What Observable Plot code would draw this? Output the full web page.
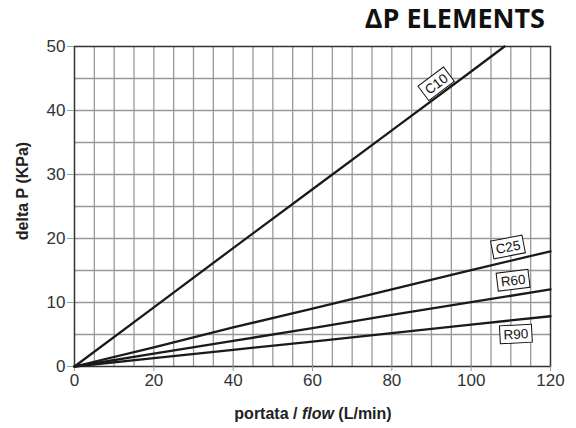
<!DOCTYPE html>
<html><head><meta charset="utf-8">
<script src="https://cdn.jsdelivr.net/npm/d3@7"></script>
<script src="https://cdn.jsdelivr.net/npm/@observablehq/plot@0.6"></script>
<style>
body{margin:0;background:#fff;}
#wrap{position:relative;width:576px;height:428px;font-family:"Liberation Sans",Arial,sans-serif;}
#title{position:absolute;right:31px;top:0px;font:bold 27px "Open Sans",sans-serif;color:#111;line-height:36px;}
#xlab{position:absolute;left:0;width:626px;top:404px;text-align:center;font:bold 16px "Liberation Sans",Arial,sans-serif;color:#222;line-height:20px;}
#ylab{position:absolute;left:23px;top:191px;transform:translate(-50%,-50%) rotate(-90deg);white-space:nowrap;font:bold 16px "Liberation Sans",Arial,sans-serif;color:#222;line-height:20px;}
#chart{position:absolute;left:0;top:0;}
</style></head>
<body>
<div id="wrap">
<div id="chart"></div>
<div id="title">ΔP ELEMENTS</div>
<div id="ylab">delta P (KPa)</div>
<div id="xlab">portata / <i>flow</i> (L/min)</div>
</div>
<script>
const xTicks = [0, 20, 40, 60, 80, 100, 120];
const yTicks = [0, 10, 20, 30, 40, 50];
const xGrid = [5,10,15,20,25,30,35,40,45,50,55,60,65,70,75,80,85,90,95,100,105,110,115];
const yGrid = [5,10,15,20,25,30,35,40,45];

const c10Flow = [0, 20, 40, 60, 80, 100, 108.4];
const c10Dp   = [0, 9.25, 18.5, 27.7, 36.9, 46.1, 50];
const flow    = [0, 20, 40, 60, 80, 100, 120];
const c25Dp   = [0, 3.0, 6.1, 9.05, 12.05, 15.05, 18.0];
const r60Dp   = [0, 2.0, 4.0, 6.0, 8.05, 10.05, 12.05];
const r90Dp   = [0, 1.3, 2.6, 3.9, 5.2, 6.55, 7.85];

const labelNames = ["C10", "C25", "R60", "R90"];
const labelX = [91.3, 109.4, 110.7, 111.4];
const labelY = [44.1, 18.6, 13.4, 5.0];
const labelAngle = [-37, -11, -7, -3];

const series = [
  {name: "C10", xs: c10Flow, ys: c10Dp},
  {name: "C25", xs: flow, ys: c25Dp},
  {name: "R60", xs: flow, ys: r60Dp},
  {name: "R90", xs: flow, ys: r90Dp}
];
const lineData = series.flatMap(s => s.xs.map((x, i) => ({name: s.name, x, y: s.ys[i]})));
const labels = labelNames.map((n, i) => ({name: n, x: labelX[i], y: labelY[i], a: labelAngle[i]}));

function boxLabels(data) {
  return (index, scales, values, dimensions, context) => {
    const g = d3.create("svg:g");
    for (const d of data) {
      const px = scales.x(d.x), py = scales.y(d.y);
      const gg = g.append("g").attr("transform", `translate(${px},${py}) rotate(${d.a})`);
      gg.append("rect").attr("x", -16).attr("y", -9).attr("width", 32).attr("height", 18)
        .attr("fill", "white").attr("stroke", "#111").attr("stroke-width", 1);
      gg.append("text").attr("text-anchor", "middle").attr("dy", "0.36em")
        .attr("font-family", "Liberation Sans, Arial, sans-serif").attr("font-size", 13.5).attr("fill", "#111")
        .text(d.name);
    }
    return g.node();
  };
}

const chart = Plot.plot({
  width: 576, height: 428,
  marginLeft: 74, marginRight: 26, marginTop: 46, marginBottom: 62,
  style: {fontFamily: "Liberation Sans, Arial, sans-serif", fontSize: "17px", color: "#333", background: "white"},
  x: {domain: [0, 120], label: null},
  y: {domain: [0, 50], label: null},
  marks: [
    Plot.ruleX(xGrid, {stroke: "#999", strokeWidth: 1.3, strokeOpacity: 1}),
    Plot.ruleY(yGrid, {stroke: "#999", strokeWidth: 1.3, strokeOpacity: 1}),
    Plot.frame({stroke: "#333", strokeWidth: 1.5}),
    Plot.axisX({ticks: xTicks, tickSize: 5, tickPadding: 2, stroke: "#999", fill: "#333", label: null}),
    Plot.axisY({ticks: yTicks, tickSize: 7, tickPadding: 2, stroke: "#999", fill: "#333", label: null}),
    Plot.line(lineData, {x: "x", y: "y", z: "name", stroke: "#1a1a1a", strokeWidth: 2.3}),
    boxLabels(labels)
  ]
});
document.getElementById("chart").appendChild(chart);
</script>
</body></html>
